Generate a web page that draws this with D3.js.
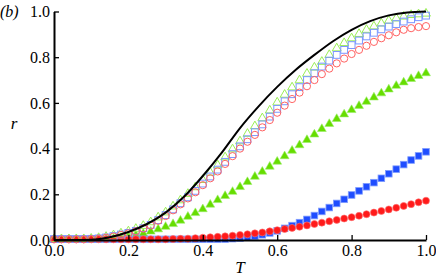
<!DOCTYPE html>
<html><head><meta charset="utf-8">
<script src="https://cdn.jsdelivr.net/npm/d3@7"></script>
<style>body{margin:0;background:#fff}svg{display:block}</style>
</head><body>
<script>
const tValues = [0,0.02,0.04,0.06,0.08,0.10,0.12,0.14,0.16,0.18,0.20,0.22,0.24,0.26,0.28,0.30,0.32,0.34,0.36,0.38,0.40,0.42,0.44,0.46,0.48,0.50,0.52,0.54,0.56,0.58,0.60,0.62,0.64,0.66,0.68,0.70,0.72,0.74,0.76,0.78,0.80,0.82,0.84,0.86,0.88,0.90,0.92,0.94,0.96,0.98,1.00];
const openTriangles = [0.004,0.004,0.004,0.004,0.004,0.006,0.009,0.014,0.021,0.029,0.038,0.049,0.062,0.078,0.099,0.121,0.147,0.174,0.202,0.231,0.263,0.295,0.327,0.362,0.397,0.432,0.465,0.498,0.533,0.567,0.602,0.636,0.668,0.699,0.728,0.755,0.78,0.81,0.839,0.862,0.883,0.902,0.92,0.935,0.948,0.96,0.97,0.978,0.985,0.988,0.991];
const openSquares = [0.004,0.004,0.004,0.004,0.004,0.005,0.007,0.011,0.017,0.024,0.031,0.04,0.052,0.066,0.087,0.109,0.134,0.161,0.187,0.215,0.247,0.278,0.308,0.342,0.376,0.41,0.441,0.472,0.506,0.54,0.574,0.607,0.638,0.669,0.70,0.73,0.759,0.785,0.81,0.832,0.853,0.873,0.891,0.907,0.922,0.934,0.945,0.956,0.966,0.975,0.982];
const openCircles = [0.003,0.003,0.003,0.003,0.003,0.004,0.006,0.01,0.015,0.022,0.029,0.038,0.05,0.064,0.084,0.105,0.13,0.156,0.182,0.209,0.24,0.27,0.30,0.333,0.367,0.40,0.43,0.46,0.493,0.525,0.557,0.588,0.617,0.645,0.673,0.70,0.726,0.75,0.773,0.794,0.814,0.832,0.85,0.867,0.883,0.896,0.909,0.92,0.927,0.932,0.936];
const filledTriangles = [0.003,0.003,0.003,0.003,0.003,0.003,0.003,0.004,0.006,0.01,0.015,0.021,0.028,0.037,0.047,0.058,0.07,0.085,0.102,0.118,0.135,0.155,0.175,0.193,0.211,0.232,0.254,0.277,0.299,0.321,0.343,0.367,0.391,0.415,0.438,0.462,0.486,0.508,0.53,0.55,0.569,0.587,0.605,0.624,0.642,0.659,0.675,0.69,0.705,0.718,0.73];
const filledSquares = [0.003,0.003,0.003,0.003,0.003,0.003,0.003,0.003,0.003,0.003,0.003,0.003,0.003,0.003,0.003,0.003,0.003,0.003,0.003,0.003,0.003,0.003,0.003,0.004,0.006,0.008,0.012,0.017,0.023,0.031,0.04,0.051,0.063,0.076,0.09,0.107,0.125,0.142,0.16,0.178,0.197,0.215,0.233,0.251,0.27,0.29,0.31,0.33,0.35,0.368,0.386];
const filledCircles = [0.003,0.003,0.003,0.003,0.003,0.003,0.003,0.003,0.003,0.003,0.003,0.003,0.003,0.003,0.003,0.003,0.004,0.005,0.006,0.008,0.01,0.012,0.014,0.016,0.019,0.022,0.025,0.029,0.033,0.038,0.043,0.048,0.053,0.058,0.064,0.07,0.076,0.082,0.088,0.094,0.1,0.106,0.113,0.12,0.127,0.134,0.141,0.149,0.157,0.165,0.172];
const curveT = [0,0.05,0.1,0.15,0.2,0.25,0.3,0.35,0.4,0.45,0.5,0.55,0.6,0.65,0.7,0.75,0.8,0.85,0.9,0.95,1.0];
const curveR = [0,0,0.001,0.012,0.035,0.07,0.12,0.19,0.28,0.38,0.49,0.585,0.67,0.745,0.81,0.87,0.92,0.958,0.983,0.996,1.0];
const xTicks = [0,0.2,0.4,0.6,0.8,1.0];
const yTicks = [0,0.2,0.4,0.6,0.8,1.0];

const W = 436, H = 278;
const svg = d3.select("body").append("svg").attr("width", W).attr("height", H);
const x = d3.scaleLinear().domain([0,1]).range([54,426]);
const y = d3.scaleLinear().domain([0,1]).range([240,11.5]);
const font = "'Liberation Serif','Times New Roman',serif";

function series(vals, kind, opts){
  const g = svg.append("g");
  const pts = tValues.map((t,i)=>[x(t), y(vals[i])]);
  if(kind==="circle"){
    g.selectAll("circle").data(pts).enter().append("circle")
      .attr("cx",d=>d[0]).attr("cy",d=>d[1]).attr("r",opts.r)
      .attr("fill",opts.fill).attr("stroke",opts.stroke).attr("stroke-width",opts.sw);
  } else if(kind==="square"){
    g.selectAll("rect").data(pts).enter().append("rect")
      .attr("x",d=>d[0]-opts.s/2).attr("y",d=>d[1]-opts.s/2).attr("width",opts.s).attr("height",opts.s)
      .attr("fill",opts.fill).attr("stroke",opts.stroke).attr("stroke-width",opts.sw);
  } else {
    const sym = d3.symbol().type(d3.symbolTriangle).size(opts.size);
    g.selectAll("path").data(pts).enter().append("path")
      .attr("transform",d=>`translate(${d[0]},${d[1]})`).attr("d",sym)
      .attr("fill",opts.fill).attr("stroke",opts.stroke).attr("stroke-width",opts.sw);
  }
}

series(filledTriangles,"triangle",{size:34,fill:"#66dd00",stroke:"#99ee66",sw:0.6});
series(filledSquares,"square",{s:6.6,fill:"#1f4dff",stroke:"#7f9cff",sw:0.8});
series(filledCircles,"circle",{r:3.5,fill:"#ff1a1a",stroke:"#ff7070",sw:0.6});
series(openTriangles,"triangle",{size:34,fill:"none",stroke:"#99ee55",sw:1});
series(openSquares,"square",{s:6.8,fill:"none",stroke:"#7b97ff",sw:1});
series(openCircles,"circle",{r:3.6,fill:"none",stroke:"#ff6262",sw:1});

const line = d3.line().x((d,i)=>x(curveT[i])).y(d=>y(d)).curve(d3.curveMonotoneX);
svg.append("path").datum(curveR).attr("d",line).attr("fill","none").attr("stroke","#000").attr("stroke-width",2);

const xa = svg.append("g").attr("transform","translate(0,240)")
  .call(d3.axisBottom(x).tickValues(xTicks).tickFormat(d3.format(".1f")).tickSizeInner(-5).tickSizeOuter(0).tickPadding(5));
const ya = svg.append("g").attr("transform","translate(54,0)")
  .call(d3.axisLeft(y).tickValues(yTicks).tickFormat(d3.format(".1f")).tickSizeInner(-5).tickSizeOuter(0).tickPadding(4));
[xa,ya].forEach(a=>{
  a.select(".domain").attr("stroke","#000").attr("stroke-width",2);
  a.selectAll(".tick line").attr("stroke","#000").attr("stroke-width",1.3);
  a.selectAll(".tick text").attr("fill","#000").style("font-family",font).style("font-size","16px");
});

svg.append("text").attr("x",0).attr("y",17).text("(b)")
  .style("font-family",font).style("font-style","italic").style("font-size","16px");
svg.append("text").attr("x",14).attr("y",129).attr("text-anchor","middle").text("r")
  .style("font-family",font).style("font-style","italic").style("font-size","17px");
svg.append("text").attr("x",240).attr("y",273).attr("text-anchor","middle").text("T")
  .style("font-family",font).style("font-style","italic").style("font-size","17px");
</script>
</body></html>
